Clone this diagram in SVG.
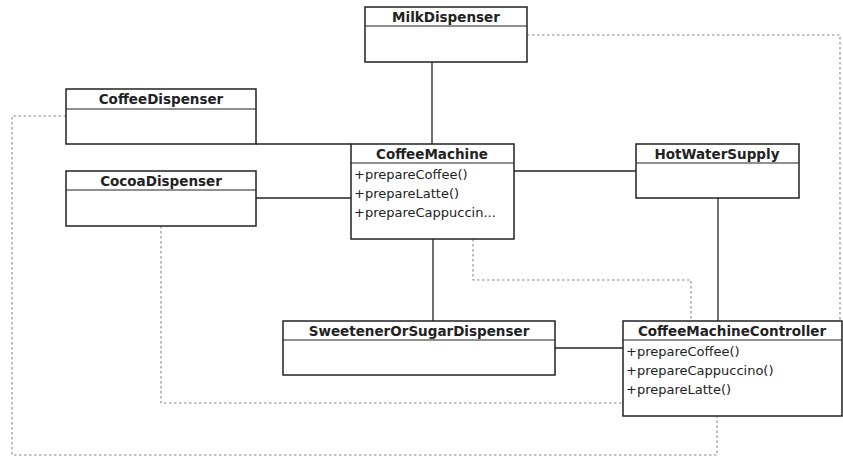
<svg xmlns="http://www.w3.org/2000/svg" width="843" height="459" viewBox="0 0 843 459">
<style>
.box{fill:#fff;stroke:#222;stroke-width:1.5}
.sep{stroke:#222;stroke-width:1.2}
.hd{font-family:"DejaVu Sans",sans-serif;font-weight:bold;font-size:13.5px;fill:#222;text-anchor:middle}
.m{font-family:"DejaVu Sans",sans-serif;font-size:13px;fill:#222}
.sol{fill:none;stroke:#222;stroke-width:1.3}
.dot{fill:none;stroke:#888;stroke-width:1.1;stroke-dasharray:2.5 2.5}
</style>
<rect width="843" height="459" fill="#fff"/>
<g id="connectors">
<path class="dot" d="M527,35 H840 V321"/>
<path class="dot" d="M66,116 H12 V455 H717 V416"/>
<path class="dot" d="M161,226 V403 H623"/>
<path class="dot" d="M473,239 V280 H691 V321"/>
<path class="sol" d="M432,62 V144"/>
<path class="sol" d="M256,144 H351"/>
<path class="sol" d="M256,198 H351"/>
<path class="sol" d="M514,171 H636"/>
<path class="sol" d="M433,239 V321"/>
<path class="sol" d="M718,198 V321"/>
<path class="sol" d="M555,348 H623"/>
</g>
<g id="MilkDispenser">
<rect class="box" x="365" y="7" width="162" height="55"/>
<line class="sep" x1="365" y1="26" x2="527" y2="26"/>
<text class="hd" x="446" y="21.5">MilkDispenser</text>
</g>
<g id="CoffeeDispenser">
<rect class="box" x="66" y="89" width="190" height="55"/>
<line class="sep" x1="66" y1="109" x2="256" y2="109"/>
<text class="hd" x="161" y="103.5">CoffeeDispenser</text>
</g>
<g id="CocoaDispenser">
<rect class="box" x="66" y="171" width="190" height="55"/>
<line class="sep" x1="66" y1="190" x2="256" y2="190"/>
<text class="hd" x="161" y="185.5">CocoaDispenser</text>
</g>
<g id="CoffeeMachine">
<rect class="box" x="351" y="144" width="163" height="95"/>
<line class="sep" x1="351" y1="163" x2="514" y2="163"/>
<text class="hd" x="432" y="158.5">CoffeeMachine</text>
<text class="m" x="354" y="179">+prepareCoffee()</text>
<text class="m" x="354" y="198">+prepareLatte()</text>
<text class="m" x="354" y="217">+prepareCappuccin...</text>
</g>
<g id="HotWaterSupply">
<rect class="box" x="636" y="144" width="163" height="54"/>
<line class="sep" x1="636" y1="163" x2="799" y2="163"/>
<text class="hd" x="717" y="158.5">HotWaterSupply</text>
</g>
<g id="SweetenerOrSugarDispenser">
<rect class="box" x="283" y="321" width="272" height="54"/>
<line class="sep" x1="283" y1="340" x2="555" y2="340"/>
<text class="hd" x="419" y="335.5">SweetenerOrSugarDispenser</text>
</g>
<g id="CoffeeMachineController">
<rect class="box" x="623" y="321" width="219" height="95"/>
<line class="sep" x1="623" y1="340" x2="842" y2="340"/>
<text class="hd" x="732" y="335.5">CoffeeMachineController</text>
<text class="m" x="626" y="356">+prepareCoffee()</text>
<text class="m" x="626" y="375">+prepareCappuccino()</text>
<text class="m" x="626" y="394">+prepareLatte()</text>
</g>
</svg>
